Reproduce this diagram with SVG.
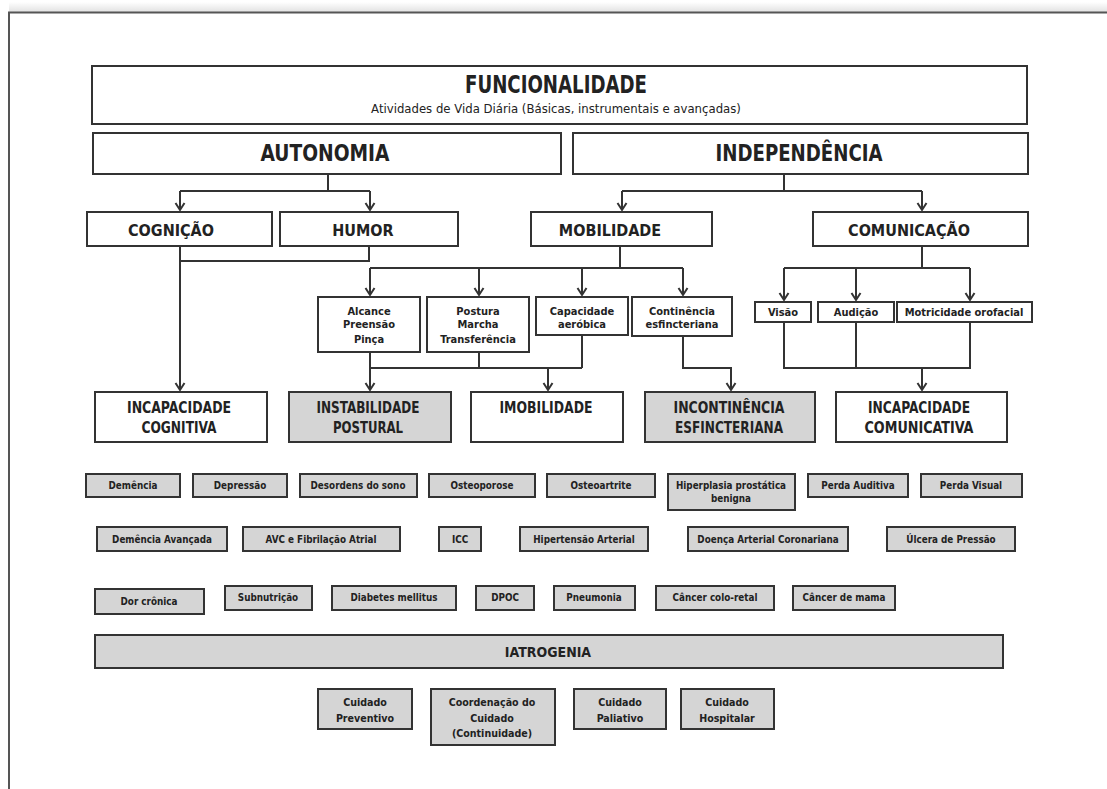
<svg xmlns="http://www.w3.org/2000/svg" width="1107" height="789" viewBox="0 0 1107 789">
<style>
.box{fill:#fff;stroke:#333;stroke-width:2}
.gbox{fill:#d5d5d5;stroke:#333;stroke-width:2}
.ln{fill:none;stroke:#333;stroke-width:2}
.ar{fill:none;stroke:#333;stroke-width:2;marker-end:url(#arr)}
text{font-family:"Liberation Sans Narrow","DejaVu Sans Condensed","Liberation Sans",sans-serif;font-stretch:condensed;fill:#222;text-anchor:middle}
.h1{font-size:25px;font-weight:bold}
.sub{font-size:13px}
.h2{font-size:23px;font-weight:bold}
.h3{font-size:16px;font-weight:bold}
.h4{font-size:16px;font-weight:bold}
.h5{font-size:14px;font-weight:bold}
.sm{font-size:11px;font-weight:bold}
.xs{font-size:9.8px;font-weight:bold}
.bt{font-size:10.6px;font-weight:bold}
</style>
<defs>
<marker id="arr" markerUnits="userSpaceOnUse" viewBox="0 0 12 12" refX="9" refY="6" markerWidth="12" markerHeight="12" orient="auto">
<path d="M2,1.5 L9,6 L2,10.5" fill="none" stroke="#333" stroke-width="2"/>
</marker>
<linearGradient id="sh" x1="0" y1="0" x2="0" y2="1">
<stop offset="0" stop-color="#fff"/>
<stop offset="1" stop-color="#e2e2e2"/>
</linearGradient>
</defs>
<rect x="0" y="0" width="1107" height="789" fill="#fff"/>
<rect x="9" y="2" width="1098" height="10" fill="url(#sh)"/>
<path d="M9,789 V12.5 H1107" fill="none" stroke="#555" stroke-width="2"/>

<g id="connectors">
<path class="ln" d="M328,174 V191 M180,191 H370"/>
<path class="ar" d="M180,191 V210"/>
<path class="ar" d="M370,191 V210"/>
<path class="ln" d="M784,174 V191 M622,191 H922"/>
<path class="ar" d="M622,191 V210"/>
<path class="ar" d="M922,191 V210"/>
<path class="ar" d="M180,246 V390"/>
<path class="ln" d="M369,246 V261 H180"/>
<path class="ln" d="M620,246 V268 M370,268 H683"/>
<path class="ar" d="M370,268 V295"/>
<path class="ar" d="M479,268 V295"/>
<path class="ar" d="M582,268 V295"/>
<path class="ar" d="M683,268 V295"/>
<path class="ln" d="M922,246 V268 M784,268 H970"/>
<path class="ar" d="M784,268 V300"/>
<path class="ar" d="M856,268 V300"/>
<path class="ar" d="M970,268 V300"/>
<path class="ar" d="M370,352 V390"/>
<path class="ln" d="M479,352 V368 M582,335 V368 M370,368 H582"/>
<path class="ar" d="M548,368 V390"/>
<path class="ar" d="M683,336 V368 H731 V390"/>
<path class="ln" d="M784,322 V368 H970 V322 M856,322 V368"/>
<path class="ar" d="M922,368 V390"/>
</g>

<g id="funcionalidade"><rect class="box" x="92" y="66" width="935" height="58"/>
<text class="h1" x="556" y="93" textLength="182" lengthAdjust="spacingAndGlyphs">FUNCIONALIDADE</text>
<text class="sub" x="556" y="113">Atividades de Vida Diária (Básicas, instrumentais e avançadas)</text></g>
<g id="autonomia"><rect class="box" x="93" y="133" width="468" height="41"/><text class="h2" x="325" y="161" textLength="129" lengthAdjust="spacingAndGlyphs">AUTONOMIA</text></g>
<g id="independencia"><rect class="box" x="573" y="133" width="455" height="41"/><text class="h2" x="799" y="161" textLength="167" lengthAdjust="spacingAndGlyphs">INDEPENDÊNCIA</text></g>
<g id="cognicao"><rect class="box" x="87" y="212" width="185" height="34"/><text class="h3" x="171" y="236">COGNIÇÃO</text></g>
<g id="humor"><rect class="box" x="280" y="212" width="178" height="34"/><text class="h3" x="363" y="236">HUMOR</text></g>
<g id="mobilidade"><rect class="box" x="531" y="212" width="181" height="34"/><text class="h3" x="610" y="236">MOBILIDADE</text></g>
<g id="comunicacao"><rect class="box" x="813" y="212" width="215" height="34"/><text class="h3" x="909" y="236">COMUNICAÇÃO</text></g>

<g id="alcance"><rect class="box" x="318" y="297" width="102" height="55"/>
<text class="sm" x="369" y="315">Alcance</text><text class="sm" x="369" y="328">Preensão</text><text class="sm" x="369" y="343">Pinça</text></g>
<g id="postura"><rect class="box" x="427" y="297" width="102" height="55"/>
<text class="sm" x="478" y="315">Postura</text><text class="sm" x="478" y="328">Marcha</text><text class="sm" x="478" y="343">Transferência</text></g>
<g id="capacidade"><rect class="box" x="536" y="297" width="92" height="38"/>
<text class="sm" x="582" y="315">Capacidade</text><text class="sm" x="582" y="328">aeróbica</text></g>
<g id="continencia"><rect class="box" x="632" y="297" width="100" height="39"/>
<text class="sm" x="682" y="315">Continência</text><text class="sm" x="682" y="328">esfincteriana</text></g>
<g id="visao"><rect class="box" x="755" y="302" width="56" height="20"/><text class="sm" x="783" y="316">Visão</text></g>
<g id="audicao"><rect class="box" x="818" y="302" width="76" height="20"/><text class="sm" x="856" y="316">Audição</text></g>
<g id="motricidade"><rect class="box" x="897" y="302" width="135" height="20"/><text class="sm" x="964" y="316">Motricidade orofacial</text></g>

<g id="incap-cognitiva"><rect class="box" x="95" y="392" width="172" height="50"/>
<text class="h4" x="179" y="413" textLength="104" lengthAdjust="spacingAndGlyphs">INCAPACIDADE</text><text class="h4" x="179" y="433" textLength="75" lengthAdjust="spacingAndGlyphs">COGNITIVA</text></g>
<g id="instabilidade"><rect class="gbox" x="289" y="392" width="162" height="50"/>
<text class="h4" x="368" y="413" textLength="103" lengthAdjust="spacingAndGlyphs">INSTABILIDADE</text><text class="h4" x="368" y="433" textLength="70" lengthAdjust="spacingAndGlyphs">POSTURAL</text></g>
<g id="imobilidade"><rect class="box" x="471" y="392" width="152" height="50"/>
<text class="h4" x="546" y="413" textLength="93" lengthAdjust="spacingAndGlyphs">IMOBILIDADE</text></g>
<g id="incontinencia"><rect class="gbox" x="645" y="392" width="170" height="50"/>
<text class="h4" x="729" y="413" textLength="111" lengthAdjust="spacingAndGlyphs">INCONTINÊNCIA</text><text class="h4" x="729" y="433" textLength="108" lengthAdjust="spacingAndGlyphs">ESFINCTERIANA</text></g>
<g id="incap-comunicativa"><rect class="box" x="836" y="392" width="171" height="50"/>
<text class="h4" x="919" y="413" textLength="102" lengthAdjust="spacingAndGlyphs">INCAPACIDADE</text><text class="h4" x="919" y="433" textLength="109" lengthAdjust="spacingAndGlyphs">COMUNICATIVA</text></g>

<g id="demencia"><rect class="gbox" x="86" y="474" width="94" height="23"/><text class="xs" x="133" y="489">Demência</text></g>
<g id="depressao"><rect class="gbox" x="193" y="474" width="94" height="23"/><text class="xs" x="240" y="489">Depressão</text></g>
<g id="desordens"><rect class="gbox" x="300" y="474" width="117" height="23"/><text class="xs" x="358" y="489">Desordens do sono</text></g>
<g id="osteoporose"><rect class="gbox" x="429" y="474" width="106" height="23"/><text class="xs" x="482" y="489">Osteoporose</text></g>
<g id="osteoartrite"><rect class="gbox" x="547" y="474" width="108" height="23"/><text class="xs" x="601" y="489">Osteoartrite</text></g>
<g id="hiperplasia"><rect class="gbox" x="668" y="474" width="127" height="36"/><text class="xs" x="731" y="489">Hiperplasia prostática</text><text class="xs" x="731" y="502">benigna</text></g>
<g id="perda-auditiva"><rect class="gbox" x="808" y="474" width="100" height="23"/><text class="xs" x="858" y="489">Perda Auditiva</text></g>
<g id="perda-visual"><rect class="gbox" x="921" y="474" width="101" height="23"/><text class="xs" x="971" y="489">Perda Visual</text></g>

<g id="demencia-avancada"><rect class="gbox" x="97" y="527" width="130" height="24"/><text class="xs" x="162" y="543">Demência Avançada</text></g>
<g id="avc"><rect class="gbox" x="243" y="527" width="157" height="24"/><text class="xs" x="321" y="543">AVC e Fibrilação Atrial</text></g>
<g id="icc"><rect class="gbox" x="439" y="527" width="42" height="24"/><text class="xs" x="460" y="543">ICC</text></g>
<g id="hipertensao"><rect class="gbox" x="520" y="527" width="128" height="24"/><text class="xs" x="584" y="543">Hipertensão Arterial</text></g>
<g id="dac"><rect class="gbox" x="688" y="527" width="160" height="24"/><text class="xs" x="768" y="543">Doença Arterial Coronariana</text></g>
<g id="ulcera"><rect class="gbox" x="887" y="527" width="128" height="24"/><text class="xs" x="951" y="543">Úlcera de Pressão</text></g>

<g id="dor-cronica"><rect class="gbox" x="95" y="589" width="109" height="25"/><text class="xs" x="149" y="605">Dor crônica</text></g>
<g id="subnutricao"><rect class="gbox" x="225" y="586" width="87" height="24"/><text class="xs" x="268" y="601">Subnutrição</text></g>
<g id="diabetes"><rect class="gbox" x="332" y="586" width="124" height="24"/><text class="xs" x="394" y="601">Diabetes mellitus</text></g>
<g id="dpoc"><rect class="gbox" x="476" y="586" width="58" height="24"/><text class="xs" x="505" y="601">DPOC</text></g>
<g id="pneumonia"><rect class="gbox" x="554" y="586" width="81" height="24"/><text class="xs" x="594" y="601">Pneumonia</text></g>
<g id="cancer-colo"><rect class="gbox" x="656" y="586" width="118" height="24"/><text class="xs" x="715" y="601">Câncer colo-retal</text></g>
<g id="cancer-mama"><rect class="gbox" x="793" y="586" width="102" height="24"/><text class="xs" x="844" y="601">Câncer de mama</text></g>

<g id="iatrogenia"><rect class="gbox" x="95" y="635" width="908" height="33"/><text class="h5" x="548" y="657">IATROGENIA</text></g>

<g id="cuidado-preventivo"><rect class="gbox" x="318" y="689" width="94" height="40"/><text class="bt" x="365" y="706">Cuidado</text><text class="bt" x="365" y="722">Preventivo</text></g>
<g id="coordenacao"><rect class="gbox" x="431" y="689" width="124" height="56"/><text class="bt" x="492" y="706">Coordenação do</text><text class="bt" x="492" y="722">Cuidado</text><text class="bt" x="492" y="737">(Continuidade)</text></g>
<g id="cuidado-paliativo"><rect class="gbox" x="574" y="689" width="92" height="40"/><text class="bt" x="620" y="706">Cuidado</text><text class="bt" x="620" y="722">Paliativo</text></g>
<g id="cuidado-hospitalar"><rect class="gbox" x="681" y="689" width="93" height="40"/><text class="bt" x="727" y="706">Cuidado</text><text class="bt" x="727" y="722">Hospitalar</text></g>
</svg>
